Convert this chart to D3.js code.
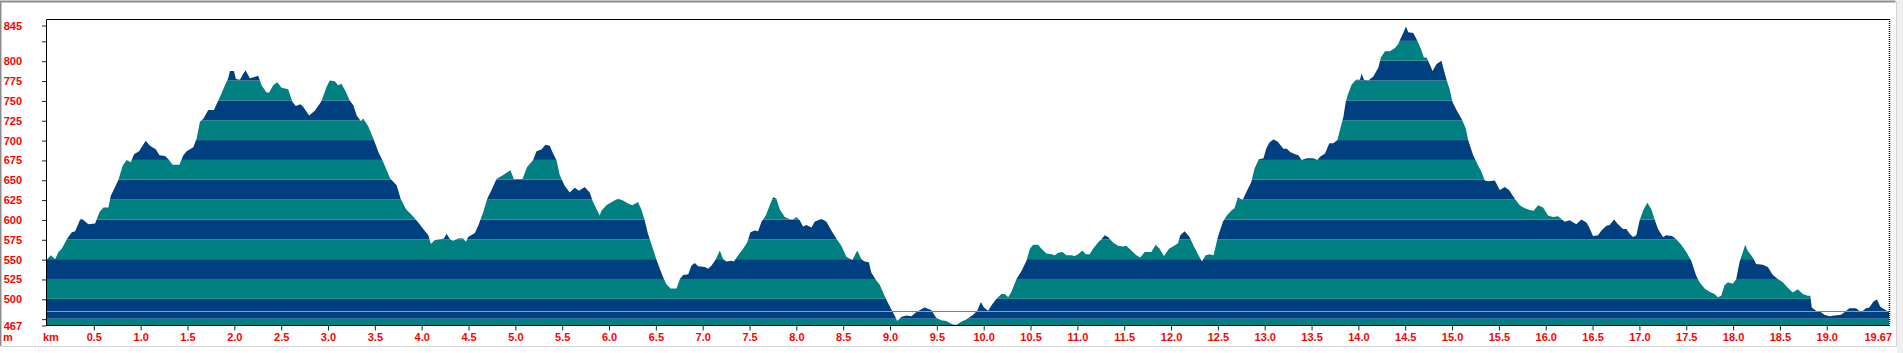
<!DOCTYPE html>
<html>
<head>
<meta charset="utf-8">
<script src="https://cdn.jsdelivr.net/npm/d3@7"></script>
<style>
  body { margin: 0; background: #fff; }
  svg { display: block; }
  .lbl { font-family: "Liberation Sans", Arial, sans-serif; font-size: 11px; font-weight: bold; fill: #f00; }
  .tick line { stroke: #103010; }
</style>
</head>
<body>
<svg id="profile" width="1903" height="353"></svg>
<script>
// elevation profile (km, m)
const distKm = [
  0.0, 0.046, 0.092, 0.128, 0.163, 0.217, 0.27, 0.306, 0.359, 0.377, 0.448, 0.519, 0.565, 0.608, 0.661, 0.686,
  0.732, 0.768, 0.814, 0.856, 0.899, 0.935, 0.988, 1.059, 1.105, 1.169, 1.205, 1.265, 1.301, 1.347, 1.418, 1.461,
  1.496, 1.567, 1.603, 1.638, 1.674, 1.727, 1.787, 1.834, 1.869, 1.905, 1.94, 1.958, 2.001, 2.022, 2.065, 2.093,
  2.125, 2.171, 2.235, 2.26, 2.296, 2.349, 2.377, 2.42, 2.463, 2.509, 2.58, 2.626, 2.662, 2.711, 2.74, 2.804,
  2.864, 2.935, 2.989, 3.024, 3.077, 3.113, 3.149, 3.195, 3.237, 3.276, 3.312, 3.354, 3.383, 3.436, 3.489, 3.543,
  3.596, 3.667, 3.738, 3.781, 3.838, 3.898, 3.969, 4.022, 4.076, 4.104, 4.147, 4.207, 4.243, 4.271, 4.307, 4.342,
  4.395, 4.449, 4.477, 4.502, 4.573, 4.609, 4.662, 4.705, 4.751, 4.804, 4.875, 4.953, 4.989, 5.017, 5.081, 5.131,
  5.195, 5.231, 5.284, 5.327, 5.373, 5.408, 5.444, 5.479, 5.533, 5.586, 5.639, 5.686, 5.746, 5.799, 5.835, 5.906,
  5.924, 5.977, 6.048, 6.101, 6.155, 6.208, 6.254, 6.314, 6.35, 6.386, 6.421, 6.474, 6.51, 6.563, 6.584, 6.62,
  6.662, 6.726, 6.762, 6.797, 6.851, 6.886, 6.922, 6.957, 7.028, 7.064, 7.1, 7.146, 7.188, 7.224, 7.259, 7.313,
  7.338, 7.384, 7.437, 7.48, 7.515, 7.561, 7.597, 7.633, 7.679, 7.721, 7.757, 7.792, 7.828, 7.881, 7.942, 7.97,
  8.006, 8.041, 8.077, 8.112, 8.166, 8.201, 8.272, 8.326, 8.379, 8.432, 8.485, 8.539, 8.603, 8.656, 8.699, 8.734,
  8.78, 8.805, 8.859, 8.894, 8.965, 9.018, 9.054, 9.082, 9.125, 9.178, 9.232, 9.285, 9.338, 9.374, 9.445, 9.498,
  9.552, 9.605, 9.669, 9.712, 9.765, 9.818, 9.871, 9.893, 9.936, 9.975, 10.007, 10.053, 10.089, 10.142, 10.195, 10.231,
  10.267, 10.302, 10.355, 10.409, 10.462, 10.498, 10.533, 10.586, 10.622, 10.675, 10.729, 10.764, 10.8, 10.846, 10.888, 10.942,
  10.977, 11.013, 11.059, 11.095, 11.137, 11.173, 11.226, 11.262, 11.297, 11.333, 11.386, 11.439, 11.493, 11.528, 11.581, 11.635,
  11.677, 11.724, 11.795, 11.841, 11.883, 11.93, 11.983, 12.026, 12.079, 12.104, 12.15, 12.203, 12.246, 12.292, 12.335, 12.374,
  12.416, 12.459, 12.505, 12.559, 12.601, 12.647, 12.683, 12.719, 12.743, 12.772, 12.807, 12.861, 12.896, 12.942, 12.992, 13.021,
  13.056, 13.099, 13.145, 13.17, 13.205, 13.241, 13.276, 13.329, 13.365, 13.4, 13.454, 13.525, 13.568, 13.596, 13.649, 13.695,
  13.738, 13.781, 13.809, 13.845, 13.87, 13.898, 13.934, 13.98, 14.022, 14.04, 14.065, 14.111, 14.165, 14.218, 14.246, 14.289,
  14.342, 14.396, 14.431, 14.456, 14.484, 14.513, 14.538, 14.591, 14.627, 14.669, 14.705, 14.733, 14.769, 14.797, 14.84, 14.893,
  14.911, 14.946, 14.982, 15.01, 15.053, 15.106, 15.152, 15.177, 15.231, 15.284, 15.319, 15.355, 15.391, 15.462, 15.515, 15.568,
  15.614, 15.675, 15.728, 15.781, 15.835, 15.877, 15.924, 15.977, 16.03, 16.084, 16.137, 16.208, 16.261, 16.332, 16.386, 16.44,
  16.47, 16.51, 16.564, 16.6, 16.653, 16.688, 16.735, 16.777, 16.83, 16.866, 16.902, 16.937, 16.973, 17.008, 17.044, 17.09,
  17.133, 17.168, 17.204, 17.257, 17.292, 17.353, 17.399, 17.452, 17.506, 17.559, 17.612, 17.648, 17.701, 17.754, 17.808, 17.843,
  17.879, 17.914, 17.95, 18.003, 18.039, 18.074, 18.11, 18.135, 18.16, 18.216, 18.252, 18.323, 18.376, 18.43, 18.483, 18.536,
  18.59, 18.643, 18.696, 18.75, 18.803, 18.831, 18.845, 18.892, 18.945, 18.98, 19.034, 19.087, 19.158, 19.194, 19.247, 19.318,
  19.371, 19.425, 19.46, 19.506, 19.542, 19.577, 19.62, 19.67
];
const elevM = [
  549, 555, 550, 559, 563, 575, 584, 585, 600, 601, 594, 595, 609, 615, 615, 630,
  641, 650, 668, 675, 672, 682, 686, 699, 693, 688, 681, 680, 676, 669, 669, 681,
  686, 691, 702, 723, 727, 738, 738, 750, 759, 769, 778, 787, 787, 777, 776, 782,
  788, 778, 780, 781, 769, 760, 760, 769, 773, 766, 764, 748, 743, 745, 742, 731,
  737, 749, 767, 775, 774, 769, 771, 761, 750, 744, 731, 724, 727, 717, 702, 685,
  672, 652, 643, 626, 613, 606, 596, 588, 580, 569, 574, 575, 576, 582, 575, 573,
  576, 576, 572, 578, 583, 592, 609, 626, 637, 651, 656, 662, 651, 651, 651, 666,
  675, 686, 688, 694, 693, 683, 675, 656, 642, 634, 640, 636, 641, 634, 622, 605,
  611, 618, 623, 626, 624, 620, 618, 622, 613, 599, 582, 563, 550, 533, 527, 518,
  513, 513, 525, 530, 531, 542, 545, 541, 540, 538, 542, 550, 561, 550, 547, 548,
  547, 555, 563, 571, 584, 586, 585, 597, 605, 618, 628, 626, 613, 603, 600, 600,
  603, 599, 591, 593, 590, 597, 601, 597, 586, 576, 567, 553, 549, 561, 550, 547,
  546, 533, 523, 518, 499, 487, 479, 472, 477, 479, 478, 483, 487, 489, 486, 476,
  473, 472, 468, 467, 471, 474, 478, 480, 485, 496, 489, 485, 492, 500, 506, 506,
  502, 509, 525, 535, 548, 563, 568, 568, 563, 557, 556, 555, 558, 559, 555, 555,
  554, 556, 561, 556, 556, 563, 571, 575, 580, 578, 571, 567, 566, 567, 561, 555,
  552, 559, 559, 568, 563, 554, 563, 566, 570, 580, 585, 578, 567, 556, 547, 555,
  556, 555, 578, 597, 605, 611, 614, 628, 626, 625, 634, 647, 664, 676, 677, 689,
  697, 701, 698, 694, 689, 689, 685, 682, 681, 675, 677, 677, 675, 679, 683, 696,
  696, 700, 713, 729, 748, 759, 770, 776, 776, 784, 776, 775, 780, 791, 804, 812,
  812, 816, 821, 828, 835, 843, 836, 835, 827, 816, 804, 804, 795, 787, 796, 800,
  791, 776, 763, 748, 738, 727, 715, 700, 681, 668, 660, 649, 648, 649, 637, 641,
  637, 626, 618, 614, 612, 611, 618, 615, 605, 603, 604, 597, 599, 594, 600, 596,
  590, 579, 580, 586, 592, 593, 600, 594, 588, 588, 582, 578, 580, 599, 611, 621,
  613, 600, 588, 578, 580, 579, 575, 568, 559, 548, 529, 521, 513, 509, 506, 502,
  504, 517, 521, 519, 525, 546, 559, 568, 561, 552, 544, 543, 540, 530, 525, 521,
  514, 508, 512, 506, 504, 504, 489, 485, 483, 480, 478, 479, 480, 483, 488, 488,
  483, 488, 489, 497, 499, 490, 487, 483
];

const totalKm = 19.67;
const finishElev = 485;
const yTicks = [467, 475, 500, 525, 550, 575, 600, 625, 650, 675, 700, 725, 750, 775, 800, 825, 845];
const yLabels = [467, 500, 525, 550, 575, 600, 625, 650, 675, 700, 725, 750, 775, 800, 845];
const xTicks = [0.5, 1.0, 1.5, 2.0, 2.5, 3.0, 3.5, 4.0, 4.5, 5.0, 5.5, 6.0, 6.5, 7.0, 7.5, 8.0, 8.5, 9.0, 9.5,
  10.0, 10.5, 11.0, 11.5, 12.0, 12.5, 13.0, 13.5, 14.0, 14.5, 15.0, 15.5, 16.0, 16.5, 17.0, 17.5, 18.0, 18.5, 19.0];

const frameTop = 19;
const blue = "#004080", teal = "#008080";

let data = distKm.map(function(d, i) { return {km: d, m: elevM[i]}; });

let x = d3.scaleLinear().domain([0, totalKm]).range([46.5, 1889]);
let y = d3.scaleLinear().domain([467, 845]).range([325, 25]);

let svg = d3.select("#profile");

// window border
svg.append("rect").attr("x", 1897).attr("y", 0).attr("width", 6).attr("height", 353).attr("fill", "#f0f0f0");
svg.append("path").attr("d", "M0.5,346 V1.5 H1895.5").attr("fill", "none").attr("stroke", "#8e8e8e").attr("stroke-width", 2);
svg.append("path").attr("d", "M1,346.5 H1896.5 V1").attr("fill", "none").attr("stroke", "#d4d4d4");

let area = d3.area()
  .x(function(d) { return x(d.km); })
  .y0(y(467))
  .y1(function(d) { return y(d.m); });

svg.append("clipPath").attr("id", "ground")
  .append("path").attr("d", area(data));

// finish level, black where it runs over the sky
svg.append("line")
  .attr("x1", x(0)).attr("x2", x(totalKm))
  .attr("y1", Math.round(y(finishElev)) + 0.5).attr("y2", Math.round(y(finishElev)) + 0.5)
  .attr("stroke", "#000").attr("stroke-dasharray", "1,1");

// 25 m bands inside the profile
let bandFloors = d3.range(450, 850, 25);
svg.append("g").attr("clip-path", "url(#ground)")
  .selectAll("rect")
  .data(bandFloors)
  .enter()
  .append("rect")
  .attr("x", x(0))
  .attr("width", x(totalKm) - x(0))
  .attr("y", function(d) { return y(d + 25); })
  .attr("height", function(d) { return y(d) - y(d + 25); })
  .attr("fill", function(d) { return ((d - 475) / 25) % 2 === 0 ? blue : teal; });

svg.append("line")
  .attr("clip-path", "url(#ground)")
  .attr("x1", x(0)).attr("x2", x(totalKm))
  .attr("y1", Math.round(y(finishElev)) + 0.5).attr("y2", Math.round(y(finishElev)) + 0.5)
  .attr("stroke", "#fff").attr("stroke-dasharray", "1,1");

// frame
svg.append("path")
  .attr("d", "M" + Math.floor(x(0)) + ".5," + (y(467) + 0.5) + " V" + (frameTop + 0.5) + " H" + x(totalKm))
  .attr("fill", "none").attr("stroke", "#000");
svg.append("line")
  .attr("x1", Math.floor(x(0))).attr("x2", x(totalKm) + 1)
  .attr("y1", y(467) + 0.5).attr("y2", y(467) + 0.5)
  .attr("stroke", "#000");
svg.append("line")
  .attr("x1", Math.floor(x(totalKm)) + 0.5).attr("x2", Math.floor(x(totalKm)) + 0.5)
  .attr("y1", frameTop).attr("y2", y(467))
  .attr("stroke", "#000").attr("stroke-width", 1.5).attr("stroke-dasharray", "1,1");

let yAxis = d3.axisLeft(y)
  .tickValues(yTicks)
  .tickSize(4)
  .tickSizeOuter(0)
  .tickPadding(20)
  .tickFormat(function(d) { return yLabels.includes(d) ? d : ""; });

let gy = svg.append("g")
  .attr("transform", "translate(" + Math.floor(x(0)) + ",0.5)")
  .call(yAxis);
gy.select(".domain").remove();
gy.selectAll("text").attr("class", "lbl").attr("fill", null);

let xAxis = d3.axisBottom(x)
  .tickValues(xTicks)
  .tickSize(5)
  .tickSizeOuter(0)
  .tickPadding(3)
  .tickFormat(function(d) { return d.toFixed(1); });

let gx = svg.append("g")
  .attr("transform", "translate(0.5," + (y(467) + 0.5) + ")")
  .call(xAxis);
gx.select(".domain").remove();
gx.selectAll("text").attr("class", "lbl").attr("fill", null);

svg.append("text").attr("class", "lbl")
  .attr("x", x(totalKm) + 3).attr("y", 341)
  .attr("text-anchor", "end")
  .text(totalKm.toFixed(2));
svg.append("text").attr("class", "lbl").attr("x", 43).attr("y", 341).text("km");
svg.append("text").attr("class", "lbl").attr("x", 3).attr("y", 341).text("m");
</script>
</body>
</html>
